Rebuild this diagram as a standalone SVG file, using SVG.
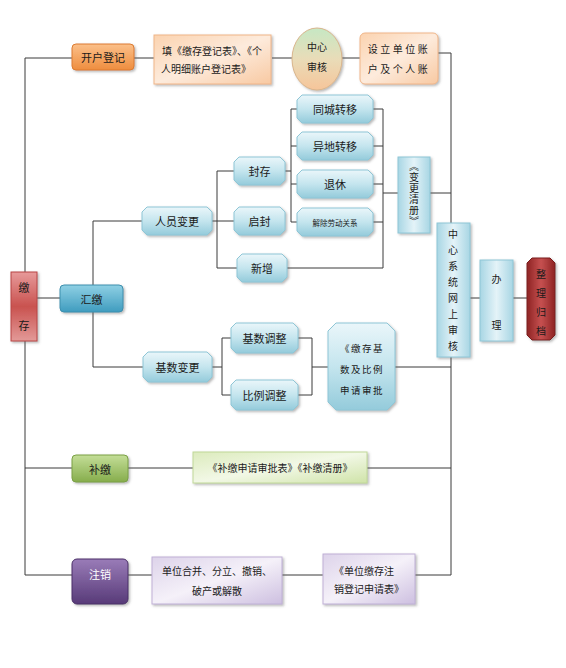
<svg xmlns="http://www.w3.org/2000/svg" width="566" height="668" viewBox="0 0 566 668">
<defs>
<linearGradient id="gOr" x1="0" y1="0" x2="0" y2="1"><stop offset="0" stop-color="#fbc08a"/><stop offset="1" stop-color="#ee8d3e"/></linearGradient>
<linearGradient id="gOrL" x1="0" y1="0" x2="1" y2="1"><stop offset="0" stop-color="#fbd3b0"/><stop offset="0.5" stop-color="#fdebdc"/><stop offset="1" stop-color="#f8c9a2"/></linearGradient>
<linearGradient id="gEl" x1="0" y1="0" x2="0" y2="1"><stop offset="0" stop-color="#c6e8c4"/><stop offset="0.5" stop-color="#e9dcb8"/><stop offset="1" stop-color="#f6c59a"/></linearGradient>
<linearGradient id="gBl" x1="0" y1="0" x2="0" y2="1"><stop offset="0" stop-color="#eaf6fa"/><stop offset="0.5" stop-color="#c4e5ee"/><stop offset="1" stop-color="#94cbdb"/></linearGradient>
<linearGradient id="gBlV" x1="0" y1="0" x2="1" y2="0"><stop offset="0" stop-color="#a8d6e4"/><stop offset="0.5" stop-color="#e4f3f8"/><stop offset="1" stop-color="#a8d6e4"/></linearGradient>
<linearGradient id="gHui" x1="0" y1="0" x2="0" y2="1"><stop offset="0" stop-color="#8fd0e4"/><stop offset="1" stop-color="#3f9cbf"/></linearGradient>
<linearGradient id="gRed" x1="0" y1="0" x2="0" y2="1"><stop offset="0" stop-color="#e79a9a"/><stop offset="0.5" stop-color="#c9524f"/><stop offset="1" stop-color="#e39a98"/></linearGradient>
<linearGradient id="gDRed" x1="0" y1="0" x2="1" y2="0"><stop offset="0" stop-color="#8e2424"/><stop offset="0.5" stop-color="#c65050"/><stop offset="1" stop-color="#8e2424"/></linearGradient>
<linearGradient id="gGr" x1="0" y1="0" x2="0" y2="1"><stop offset="0" stop-color="#c4de98"/><stop offset="1" stop-color="#86ad4c"/></linearGradient>
<linearGradient id="gGrL" x1="0" y1="0" x2="1" y2="1"><stop offset="0" stop-color="#dcebbd"/><stop offset="0.5" stop-color="#f2f8e6"/><stop offset="1" stop-color="#cfe3a8"/></linearGradient>
<linearGradient id="gPu" x1="0" y1="0" x2="0" y2="1"><stop offset="0" stop-color="#9a7cb8"/><stop offset="1" stop-color="#573a78"/></linearGradient>
<linearGradient id="gPuL" x1="0" y1="0" x2="1" y2="1"><stop offset="0" stop-color="#ddd3ea"/><stop offset="0.5" stop-color="#f5f1f9"/><stop offset="1" stop-color="#cdbfe0"/></linearGradient>
<filter id="sh" x="-20%" y="-20%" width="140%" height="140%"><feDropShadow dx="1.5" dy="1.5" stdDeviation="0.8" flood-color="#666" flood-opacity="0.45"/></filter>
<style>
.ln{fill:none;stroke:#3a3a3a;stroke-width:1}
text{font-family:"Noto Sans CJK SC","Noto Sans",sans-serif;fill:#1a1a1a;text-anchor:middle;dominant-baseline:central}
.t11{font-size:11px}
.t10{font-size:10px}
.vt{font-size:10px;writing-mode:vertical-rl;dominant-baseline:auto;letter-spacing:1px}
.bl{fill:url(#gBl);stroke:#8ec6d6;stroke-width:1;filter:url(#sh)}
</style>
</defs>

<g id="connectors">
<path class="ln" d="M25,58 V575"/>
<path class="ln" d="M25,58 H72"/>
<path class="ln" d="M134,58 H154"/>
<path class="ln" d="M272,58 H292"/>
<path class="ln" d="M342,58 H360"/>
<path class="ln" d="M438,53 H451 V575"/>
<path class="ln" d="M37,298 H60"/>
<path class="ln" d="M93,221 V367"/>
<path class="ln" d="M93,221 H142"/>
<path class="ln" d="M93,367 H143"/>
<path class="ln" d="M212,221 H217"/>
<path class="ln" d="M217,171 V268"/>
<path class="ln" d="M217,171 H234 M217,221 H234 M217,268 H237"/>
<path class="ln" d="M285,171 H291"/>
<path class="ln" d="M291,109 V222"/>
<path class="ln" d="M291,109 H297 M291,146 H297 M291,184 H297 M291,222 H297"/>
<path class="ln" d="M373,109 H383 M373,146 H383 M373,184 H383 M373,222 H383"/>
<path class="ln" d="M383,109 V268"/>
<path class="ln" d="M287,268 H383"/>
<path class="ln" d="M383,193 H398"/>
<path class="ln" d="M430,193 H451"/>
<path class="ln" d="M470,298 H480"/>
<path class="ln" d="M513,298 H527"/>
<path class="ln" d="M212,367 H222"/>
<path class="ln" d="M222,338 V395"/>
<path class="ln" d="M222,338 H231 M222,395 H231"/>
<path class="ln" d="M298,338 H312 M298,395 H312"/>
<path class="ln" d="M312,338 V395"/>
<path class="ln" d="M312,367 H328"/>
<path class="ln" d="M395,367 H451"/>
<path class="ln" d="M25,468 H72 M128,468 H193 M367,468 H451"/>
<path class="ln" d="M25,575 H72 M128,575 H152 M282,575 H323 M415,575 H451"/>
</g>

<g id="kaihu">
<rect x="72" y="44" width="62" height="26" rx="4" fill="url(#gOr)" stroke="#dc7b30" filter="url(#sh)"/>
<text class="t11" x="103" y="57">开户登记</text>
</g>

<g id="tian">
<rect x="154" y="35" width="117" height="49" fill="url(#gOrL)" stroke="#f0b588" filter="url(#sh)"/>
<text class="t10" x="212" y="50">填《缴存登记表》、《个</text>
<text class="t10" x="206" y="68">人明细账户登记表》</text>
</g>

<g id="zhongxin-shenhe">
<ellipse cx="317" cy="59" rx="25" ry="31" fill="url(#gEl)" stroke="#d9b58c" filter="url(#sh)"/>
<text class="t10" x="317" y="46">中心</text>
<text class="t10" x="317" y="66">审核</text>
</g>

<g id="sheli">
<rect x="360" y="33" width="78" height="51" rx="5" fill="url(#gOrL)" stroke="#f0b588" filter="url(#sh)"/>
<text class="t10" x="399" y="48" letter-spacing="2.5">设立单位账</text>
<text class="t10" x="399" y="68" letter-spacing="2.5">户及个人账</text>
</g>

<g id="tongcheng">
<path class="bl" d="M302,95 H368 L373,100 V118 L368,123 H302 L297,118 V100 Z"/>
<text class="t11" x="335" y="109">同城转移</text>
</g>
<g id="yidi">
<path class="bl" d="M302,132 H368 L373,137 V155 L368,160 H302 L297,155 V137 Z"/>
<text class="t11" x="335" y="146">异地转移</text>
</g>
<g id="tuixiu">
<path class="bl" d="M302,170 H368 L373,175 V193 L368,198 H302 L297,193 V175 Z"/>
<text class="t11" x="335" y="184">退休</text>
</g>
<g id="jiechu">
<path class="bl" d="M302,208 H368 L373,213 V231 L368,236 H302 L297,231 V213 Z"/>
<text x="335" y="222" font-size="7.5px">解除劳动关系</text>
</g>

<g id="fengcun">
<path class="bl" d="M239,157 H280 L285,162 V180 L280,185 H239 L234,180 V162 Z"/>
<text class="t11" x="259.5" y="171">封存</text>
</g>
<g id="qifeng">
<path class="bl" d="M239,207 H280 L285,212 V230 L280,235 H239 L234,230 V212 Z"/>
<text class="t11" x="259.5" y="221">启封</text>
</g>
<g id="xinzeng">
<path class="bl" d="M242,254 H282 L287,259 V277 L282,282 H242 L237,277 V259 Z"/>
<text class="t11" x="262" y="268">新增</text>
</g>
<g id="renyuan">
<path class="bl" d="M147,207 H207 L212,212 V230 L207,235 H147 L142,230 V212 Z"/>
<text class="t11" x="177" y="221">人员变更</text>
</g>

<g id="biangeng-qingce">
<rect x="398" y="157" width="32" height="76" fill="url(#gBlV)" stroke="#8ec6d6" filter="url(#sh)"/>
<text class="vt" x="414" y="194">《变更清册》</text>
</g>

<g id="jiaocun">
<rect x="11" y="272" width="26" height="69" fill="url(#gRed)" stroke="#b84444" filter="url(#sh)"/>
<text class="t11" x="24" y="287">缴</text>
<text class="t11" x="24" y="325">存</text>
</g>

<g id="huijiao">
<rect x="60" y="285" width="63" height="27" rx="4" fill="url(#gHui)" stroke="#3c8fae" filter="url(#sh)"/>
<text class="t11" x="91.5" y="298.5">汇缴</text>
</g>

<g id="zhongxin-wangshang">
<rect x="437" y="223" width="33" height="134" fill="url(#gBlV)" stroke="#8ec6d6" filter="url(#sh)"/>
<text class="t10" x="453" y="233">中</text>
<text class="t10" x="453" y="249">心</text>
<text class="t10" x="453" y="265">系</text>
<text class="t10" x="453" y="281">统</text>
<text class="t10" x="453" y="297">网</text>
<text class="t10" x="453" y="313">上</text>
<text class="t10" x="453" y="329">审</text>
<text class="t10" x="453" y="345">核</text>
</g>

<g id="banli">
<rect x="480" y="260" width="33" height="81" fill="url(#gBlV)" stroke="#8ec6d6" filter="url(#sh)"/>
<text class="t10" x="496.5" y="278">办</text>
<text class="t10" x="496.5" y="324">理</text>
</g>

<g id="zhengli">
<path d="M532,258 H550 L555,263 V335 L550,340 H532 L527,335 V263 Z" fill="url(#gDRed)" stroke="#7a1c1c" filter="url(#sh)"/>
<text class="t10" x="541" y="273">整</text>
<text class="t10" x="541" y="292">理</text>
<text class="t10" x="541" y="311">归</text>
<text class="t10" x="541" y="330">档</text>
</g>

<g id="jishu-biangeng">
<path class="bl" d="M148,352 H207 L212,357 V377 L207,382 H148 L143,377 V357 Z"/>
<text class="t11" x="177.5" y="367">基数变更</text>
</g>
<g id="jishu-tiaozheng">
<path class="bl" d="M236,323 H293 L298,328 V348 L293,353 H236 L231,348 V328 Z"/>
<text class="t11" x="264.5" y="338">基数调整</text>
</g>
<g id="bili-tiaozheng">
<path class="bl" d="M236,380 H293 L298,385 V405 L293,410 H236 L231,405 V385 Z"/>
<text class="t11" x="264.5" y="395">比例调整</text>
</g>
<g id="jiaocun-jishu">
<path class="bl" d="M336,323 H387 L395,331 V402 L387,410 H336 L328,402 V331 Z"/>
<text x="362" y="348" font-size="9.5px" letter-spacing="1.5">《缴存基</text>
<text x="362" y="369" font-size="9.5px" letter-spacing="1.5">数及比例</text>
<text x="362" y="390" font-size="9.5px" letter-spacing="1.5">申请审批</text>
</g>

<g id="bujiao">
<rect x="72" y="455" width="56" height="27" rx="4" fill="url(#gGr)" stroke="#7aa044" filter="url(#sh)"/>
<text class="t11" x="100" y="468.5">补缴</text>
</g>
<g id="bujiao-biao">
<rect x="193" y="452" width="174" height="31" fill="url(#gGrL)" stroke="#c0d898" filter="url(#sh)"/>
<text class="t10" x="280" y="467.5">《补缴申请审批表》《补缴清册》</text>
</g>

<g id="zhuxiao">
<rect x="72" y="559" width="56" height="45" rx="5" fill="url(#gPu)" stroke="#4a2f68" filter="url(#sh)"/>
<text class="t11" x="100" y="574" style="fill:#ffffff">注销</text>
</g>
<g id="danwei-hebing">
<rect x="152" y="557" width="130" height="47" fill="url(#gPuL)" stroke="#bfb0d6" filter="url(#sh)"/>
<text class="t10" x="217" y="570">单位合并、分立、撤销、</text>
<text class="t10" x="217" y="590">破产或解散</text>
</g>
<g id="zhuxiao-biao">
<rect x="323" y="554" width="92" height="50" fill="url(#gPuL)" stroke="#bfb0d6" filter="url(#sh)"/>
<text class="t10" x="364" y="570">《单位缴存注</text>
<text class="t10" x="369" y="588">销登记申请表》</text>
</g>
</svg>
